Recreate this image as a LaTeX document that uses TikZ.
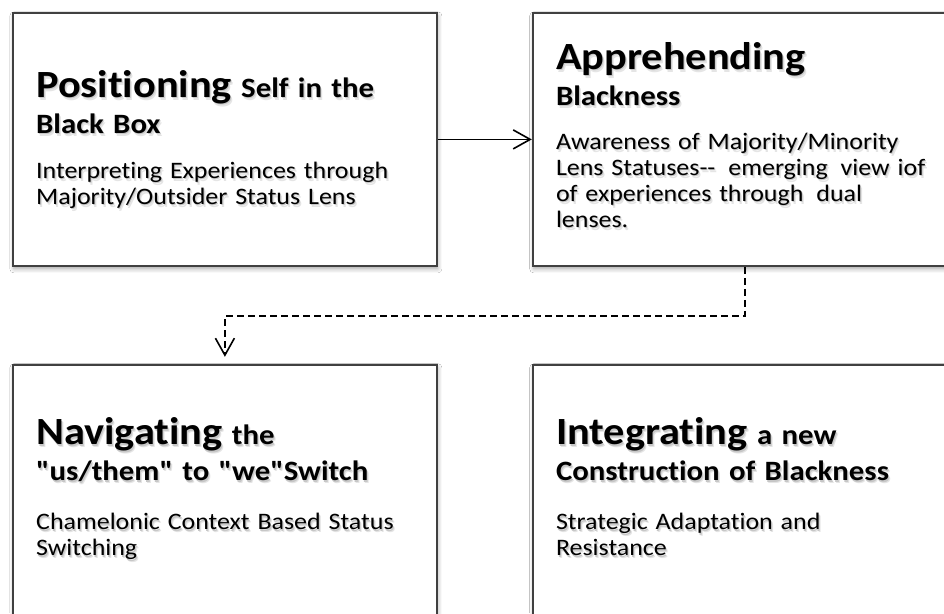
\documentclass[tikz,border=0pt]{standalone}
\usepackage{fontspec}
\setmainfont{Carlito}[Ligatures={TeXOff,CommonOff}, FakeStretch=1.1]
\usetikzlibrary{positioning,arrows.meta,shadows.blur}
\tikzset{>={Straight Barb[length=17pt,width=19pt]}}

% soft grey copies of a line of text, drawn under it
\newcommand{\shd}[1]{\leavevmode
  \rlap{\kern2pt\raisebox{-3pt}{\color{black!10}#1}}%
  \rlap{\kern1pt\raisebox{-1.6pt}{\color{black!22}#1}}#1}
\newcommand{\bigword}[1]{{\fontsize{38.5pt}{36pt}\selectfont #1}}

\begin{document}
\begin{tikzpicture}[x=1pt,y=-1pt]
    \tikzstyle{stage} = [draw=black!75, line width=1.8pt, fill=white, inner sep=0pt,
      minimum width=424pt, minimum height=253pt,
      blur shadow={shadow xshift=1pt, shadow yshift=-3pt, shadow blur radius=4pt, shadow opacity=35}]
    \tikzstyle{head} = [anchor=base west, inner sep=0pt, text width=400pt, align=left,
      font=\bfseries\fontsize{28pt}{36pt}\selectfont]
    \tikzstyle{body} = [anchor=base west, inner sep=0pt, text width=400pt, align=left,
      font=\fontsize{23.6pt}{26pt}\selectfont]
    \tikzstyle{link} = [->, line width=1.6pt]

    \useasboundingbox (0,0) rectangle (944,613);
    \fill[white] (0,0) rectangle (944,613);
    \clip (0,0) rectangle (944,613);

    % the four stages
    \node[stage, anchor=north west] (pos) at (12,12) {};
    \node[stage, right=94pt of pos] (app) {};
    \node[stage, below=97pt of pos] (nav) {};
    \node[stage, right=94pt of nav] (int) {};

    \node[head] (posHead) at ([shift={(24pt,-85pt)}]pos.north west)
      {\shd{\bigword{Positioning} Self in the}\\\shd{Black Box}};
    \node[body] (posText) at ([shift={(24pt,-166pt)}]pos.north west)
      {\shd{Interpreting Experiences through}\\\shd{Majority/Outsider Status Lens}};

    \node[head] (appHead) at ([shift={(24pt,-57pt)}]app.north west)
      {\shd{\bigword{Apprehending}}\\\shd{Blackness}};
    \node[body] (appText) at ([shift={(24pt,-137pt)}]app.north west)
      {\shd{Awareness of Majority/Minority}\\
       \shd{Lens Statuses--\hspace{13pt}emerging\hspace{13pt}view iof}\\
       \shd{of experiences through\hspace{13pt}dual}\\
       \shd{lenses.}};

    \node[head] (navHead) at ([shift={(24pt,-81pt)}]nav.north west)
      {\shd{\bigword{Navigating} the}\\\shd{"us/them" to "we"Switch}};
    \node[body] (navText) at ([shift={(24pt,-166pt)}]nav.north west)
      {\shd{Chamelonic Context Based Status}\\\shd{Switching}};

    \node[head] (intHead) at ([shift={(24pt,-81pt)}]int.north west)
      {\shd{\bigword{Integrating} a new}\\\shd{Construction of Blackness}};
    \node[body] (intText) at ([shift={(24pt,-166pt)}]int.north west)
      {\shd{Strategic Adaptation and}\\\shd{Resistance}};

    % connectors
    \draw[link] (pos) -- (app);
    \draw[link, dash pattern=on 7pt off 4pt, shorten >=7pt]
      (app.south) -- ++(0,49) -| (nav.north);
\end{tikzpicture}
\end{document}
